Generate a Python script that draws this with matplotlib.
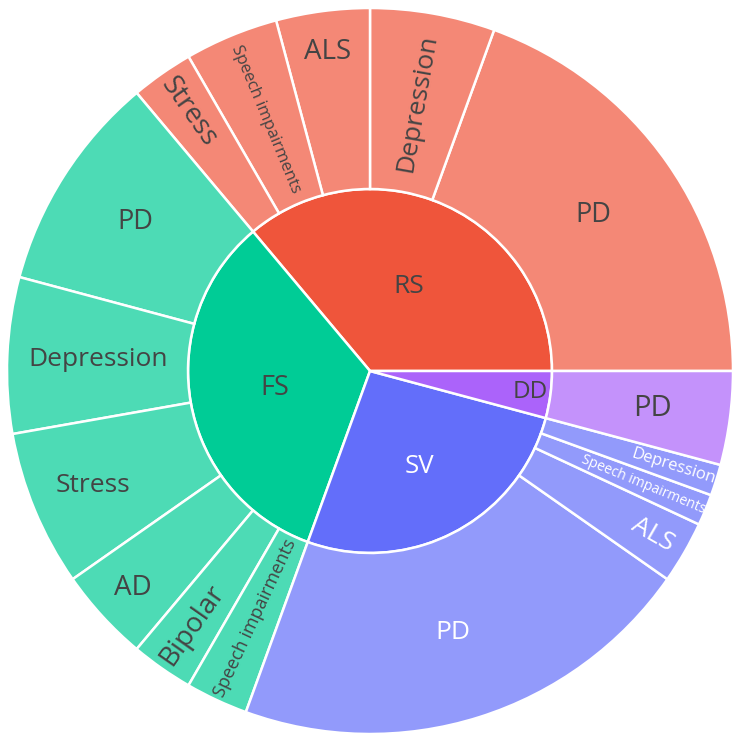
import matplotlib
matplotlib.use("Agg")
import matplotlib.pyplot as plt
import numpy as np
from matplotlib.colors import to_rgb

plt.rcParams['font.family'] = ['Open Sans', 'DejaVu Sans']

# data
parents = ['RS', 'FS', 'SV', 'DD']
rs_labels = ['PD', 'Depression', 'ALS', 'Speech impairments', 'Stress']
rs_values = [14, 4, 3, 3, 2]
fs_labels = ['PD', 'Depression', 'Stress', 'AD', 'Bipolar', 'Speech impairments']
fs_values = [7, 5, 5, 3, 2, 2]
sv_labels = ['PD', 'ALS', 'Speech impairments', 'Depression']
sv_values = [15, 2, 1, 1]
dd_labels = ['PD']
dd_values = [3]

children = [(rs_labels, rs_values), (fs_labels, fs_values),
            (sv_labels, sv_values), (dd_labels, dd_values)]
parent_values = [sum(v) for _, v in children]

# styles
base_colors = {'RS': '#EF553B', 'FS': '#00CC96', 'SV': '#636EFA', 'DD': '#AB63FA'}
text_colors = {'RS': '#444444', 'FS': '#444444', 'SV': '#ffffff', 'DD': '#444444'}
# (orientation, fontsize, radial position inside ring)
inner_style = {'RS': ('h', 19, 0.51), 'FS': ('h', 19.5, 0.53),
               'SV': ('h', 18.5, 0.59), 'DD': ('h', 17.5, 0.89)}
outer_style = {
    ('RS', 'PD'): ('h', 19.5, 0.5), ('RS', 'Depression'): ('r', 19, 0.5),
    ('RS', 'ALS'): ('h', 20, 0.77), ('RS', 'Speech impairments'): ('r', 12, 0.5),
    ('RS', 'Stress'): ('r', 20, 0.74),
    ('FS', 'PD'): ('h', 19.5, 0.53), ('FS', 'Depression'): ('h', 19, 0.5),
    ('FS', 'Stress'): ('h', 19, 0.65), ('FS', 'AD'): ('h', 20, 0.77),
    ('FS', 'Bipolar'): ('r', 20, 0.71), ('FS', 'Speech impairments'): ('r', 13, 0.5),
    ('SV', 'PD'): ('h', 19, 0.51), ('SV', 'ALS'): ('r', 19, 0.8),
    ('SV', 'Speech impairments'): ('r', 10, 0.63), ('SV', 'Depression'): ('r', 12, 0.75),
    ('DD', 'PD'): ('h', 21, 0.57),
}


def lighten(c, a=0.7):
    r, g, b = to_rgb(c)
    return (r * a + 1 - a, g * a + 1 - a, b * a + 1 - a)


W, H = 745, 747
cx, cy = 370, H - 371
R = 363
r_in = 182

fig = plt.figure(figsize=(W / 100, H / 100), dpi=100)
ax = fig.add_axes([0, 0, 1, 1])

wp = dict(edgecolor='white', linewidth=1.8)
inner, _ = ax.pie(parent_values, radius=r_in, center=(cx, cy), startangle=0,
                  counterclock=True, colors=[base_colors[p] for p in parents],
                  wedgeprops=dict(wp))

out_vals, out_cols, out_keys = [], [], []
for p, (labs, vals) in zip(parents, children):
    for l, v in zip(labs, vals):
        out_vals.append(v)
        out_cols.append(lighten(base_colors[p]))
        out_keys.append((p, l))
outer, _ = ax.pie(out_vals, radius=R, center=(cx, cy), startangle=0,
                  counterclock=True, colors=out_cols,
                  wedgeprops=dict(wp, width=R - r_in))


def put_label(wedge, text, style, r0, r1, color):
    orient, fs, frac = style
    mid = (wedge.theta1 + wedge.theta2) / 2
    rr = r0 + frac * (r1 - r0)
    x = cx + rr * np.cos(np.radians(mid))
    y = cy + rr * np.sin(np.radians(mid))
    rot = 0
    if orient == 'r':
        m = (mid + 180) % 360 - 180
        rot = m if -90 <= m <= 90 else m - 180
    ax.text(x, y, text, ha='center', va='center', rotation=rot,
            rotation_mode='anchor', fontsize=fs, color=color)


for w, p in zip(inner, parents):
    put_label(w, p, inner_style[p], 0, r_in, text_colors[p])
for w, (p, l) in zip(outer, out_keys):
    put_label(w, l, outer_style[(p, l)], r_in, R, text_colors[p])

ax.set_xlim(0, W)
ax.set_ylim(0, H)
ax.set_aspect('equal')
ax.axis('off')
fig.savefig('out.png', dpi=100, facecolor='white')
